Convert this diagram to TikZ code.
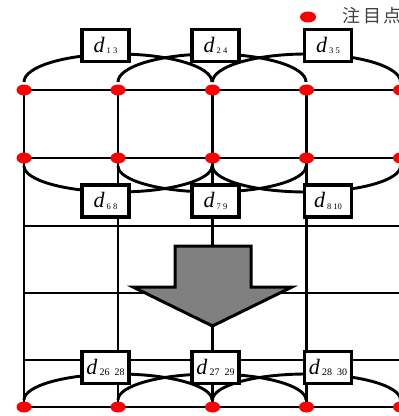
\documentclass[tikz,border=0pt]{standalone}
\usepackage{fontspec}
\setmainfont{Liberation Serif}
\newfontfamily\cjkfont[LetterSpace=16]{Noto Sans CJK JP}
\usetikzlibrary{shapes.geometric,calc}
\definecolor{arrowgray}{RGB}{128,128,128}
% italic d with a pair of indices set small and slightly lowered
\newcommand{\dlabel}[2]{\textit{d}\kern2pt\raisebox{-1.5pt}{\fontsize{#1}{#1}\selectfont\upshape #2}}
\begin{document}
\begin{tikzpicture}[x=1pt,y=-1pt,
  gridline/.style={line width=2.8pt},
  link/.style={line width=2.9pt},
  keypt/.style={ellipse, fill=red, minimum width=15pt, minimum height=11pt, inner sep=0pt},
  dbox/.style={draw, line width=3.2pt, fill=white, minimum width=47pt, minimum height=32pt,
    inner sep=0pt, font=\fontsize{22}{22}\selectfont},
]
\useasboundingbox (0,0) rectangle (399,416);

% grid coordinates: rows A..F, columns 1..5
\foreach \r/\y in {A/90,B/158,C/226,D/293,E/360,F/407}
  \foreach \c/\x in {1/24,2/118,3/212.5,4/306.5,5/400.5}
    \coordinate (\r\c) at (\x,\y);

% horizontal lines
\foreach \r in {A,B,C,D,E,F}
  \draw[gridline] (\r1) -- (\r5);
% vertical lines
\foreach \c in {1,2,3,4}
  \draw[gridline] (A\c) -- (F\c);

% arcs linking every second point (upper row above, second row below, bottom row above)
\foreach \a/\b in {1/3,2/4,3/5} {
  \draw[link] ($(A\a)+(0,-8)$) arc[start angle=180, end angle=360, x radius=94, y radius=28];
  \draw[link] ($(B\a)+(0,8)$) arc[start angle=180, end angle=0, x radius=94, y radius=26];
  \draw[link] ($(F\a)+(0,-7)$) arc[start angle=180, end angle=360, x radius=94, y radius=26];
}

% distance boxes
\node[dbox] (d13) at (105.5,45.5) {\dlabel{8.5}{1 3}};
\node[dbox] (d24) at (215.5,45.5) {\dlabel{8.5}{2 4}};
\node[dbox] (d35) at (328,45.5) {\dlabel{8.5}{3 5}};
\node[dbox] (d68) at (105.5,201) {\dlabel{8.5}{6 8}};
\node[dbox] (d79) at (215.5,201) {\dlabel{8.5}{7 9}};
\node[dbox] (d810) at (328,201) {\dlabel{8.5}{8 10}};
\node[dbox] (d2628) at (105.5,367.5) {\dlabel{10}{26\ \ 28}};
\node[dbox] (d2729) at (215.5,367.5) {\dlabel{10}{27\ \ 29}};
\node[dbox] (d2830) at (328,367.5) {\dlabel{10}{28\ \ 30}};

% block arrow
\draw[line width=3pt, fill=arrowgray, line join=miter]
  (175,246) -- (251,246) -- (251,287) -- (292,287) -- (212.5,326)
  -- (133,287) -- (175,287) -- cycle;

% points of interest
\foreach \r in {A,B,F}
  \foreach \c in {1,2,3,4,5}
    \node[keypt] (p\r\c) at (\r\c) {};

% legend
\node[keypt, minimum width=16pt] (key) at (308,17) {};
\node[anchor=west, text=black!75, font=\cjkfont\fontsize{18}{18}\selectfont, inner sep=0pt] (keytext) at (342,16) {注目点};
\end{tikzpicture}
\end{document}
